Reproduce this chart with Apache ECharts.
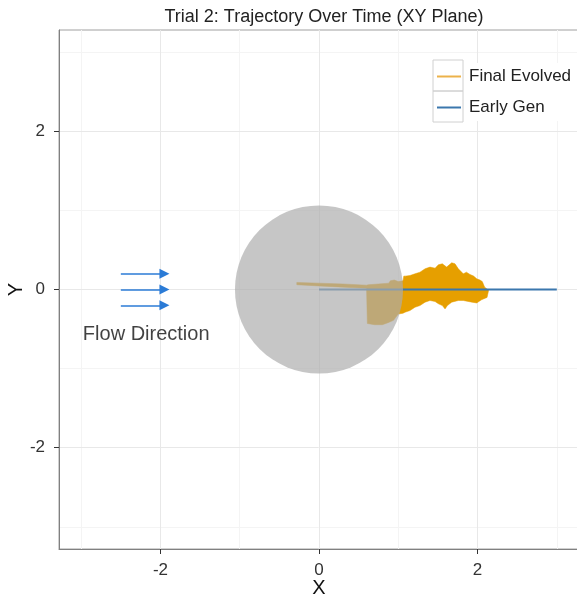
<!DOCTYPE html>
<html>
<head>
<meta charset="utf-8">
<title>Trial 2: Trajectory Over Time (XY Plane)</title>
<script src="https://cdn.jsdelivr.net/npm/echarts@6/dist/echarts.min.js"></script>
<style>
	html,body{margin:0;padding:0;background:#fff;}
	#trajectory-echarts{width:577px;height:598px;}
</style>
</head>
<body>
<div id="trajectory-echarts"></div>
<script>
// axis ticks and grid breaks
var axisRange = [-3.28, 3.28];
var majorBreaks = [-2, 0, 2];
var minorBreaks = [-3, -1, 1, 3];

// final evolved trajectory envelope (x, y)
var evolvedTop = [
	[-0.28,0.09],[0.0,0.08],[0.3,0.07],[0.60,0.055],[0.62,0.06],[0.75,0.07],[0.88,0.08],
	[0.90,0.11],[0.95,0.12],[1.00,0.10],[1.06,0.11],[1.07,0.17],[1.085,0.169],[1.148,0.177],
	[1.211,0.198],[1.274,0.219],[1.338,0.262],[1.40,0.283],[1.464,0.27],[1.506,0.312],
	[1.556,0.325],[1.61,0.283],[1.674,0.338],[1.716,0.325],[1.758,0.262],[1.82,0.198],
	[1.86,0.219],[1.905,0.19],[1.95,0.17],[1.99,0.135],[2.03,0.12],[2.06,0.1],[2.09,0.03],[2.14,-0.01]
];
var evolvedBottom = [
	[-0.28,0.06],[0.0,0.045],[0.3,0.03],[0.60,0.015],[0.61,-0.43],[0.70,-0.445],[0.80,-0.445],
	[0.87,-0.42],[0.94,-0.39],[1.0,-0.31],[1.06,-0.3],[1.085,-0.287],[1.148,-0.266],[1.211,-0.224],
	[1.274,-0.203],[1.338,-0.16],[1.40,-0.139],[1.464,-0.152],[1.506,-0.18],[1.556,-0.203],
	[1.59,-0.245],[1.62,-0.203],[1.674,-0.16],[1.758,-0.139],[1.82,-0.139],[1.93,-0.16],
	[1.99,-0.17],[2.05,-0.13],[2.12,-0.1],[2.14,-0.01]
];

// early generation trajectory
var earlyGen = [[0,0],[3,0]];

// obstacle: centre x, centre y, radius
var obstacle = [[0,0,1.06]];

// flow direction arrows
var flowArrows = [
	[[-2.5,0.2],[-1.95,0.2]],
	[[-2.5,0],[-1.95,0]],
	[[-2.5,-0.2],[-1.95,-0.2]]
];
var flowLabel = [[-2.18,-0.57]];

function trajectoryEcharts(idName){
	var trajectoryEcharts = echarts.init(document.getElementById(idName));
	var font = '"Liberation Sans", Arial, sans-serif';

	// polygon points: top edge left->right, bottom edge right->left
	var polygon = evolvedTop.concat(evolvedBottom.slice().reverse());

	var gridLines = [];
	minorBreaks.forEach(function(v){
		gridLines.push({xAxis:v, lineStyle:{color:'#f4f4f4',width:1,type:'solid'}});
		gridLines.push({yAxis:v, lineStyle:{color:'#f4f4f4',width:1,type:'solid'}});
	});
	majorBreaks.forEach(function(v){
		gridLines.push({xAxis:v, lineStyle:{color:'#e8e8e8',width:1,type:'solid'}});
		gridLines.push({yAxis:v, lineStyle:{color:'#e8e8e8',width:1,type:'solid'}});
	});

	var option = {
		animation:false,
		textStyle:{fontFamily:font},
		title:{
			text:'Trial 2: Trajectory Over Time (XY Plane)',
			left:319,
			top:3,
			textAlign:'center',
			textStyle:{fontSize:18,fontWeight:'normal',color:'#222',fontFamily:font}
		},
		grid:{
			left:59,
			top:30,
			width:520,
			height:519,
			outerBoundsMode:'none',
			containLabel:false,
			show:true,
			borderColor:'#a0a0a0',
			borderWidth:1,
			backgroundColor:'#fff'
		},
		legend:{
			orient:'vertical',
			left:432,
			top:63,
			padding:5,
			backgroundColor:'#fff',
			itemWidth:24,
			itemHeight:2,
			itemGap:14,
			icon:'rect',
			z:20,
			textStyle:{fontSize:17,color:'#222',fontFamily:font,padding:[0,0,0,3]},
			data:[
				{name:'Final Evolved',itemStyle:{color:'#ecb24a'}},
				{name:'Early Gen',itemStyle:{color:'#3b77ad'}}
			]
		},
		graphic:[
			{type:'rect',shape:{x:433,y:60,width:30,height:31},style:{fill:'none',stroke:'#d0d0d0',lineWidth:1},z:100},
			{type:'rect',shape:{x:433,y:91,width:30,height:31},style:{fill:'none',stroke:'#d0d0d0',lineWidth:1},z:100}
		],
		xAxis:{
			type:'value',
			min:axisRange[0],
			max:axisRange[1],
			name:'X',
			nameLocation:'middle',
			nameGap:29,
			nameMoveOverlap:false,
			nameTextStyle:{fontSize:20,color:'#111',fontFamily:font},
			axisLine:{onZero:false,lineStyle:{color:'#808080',width:1}},
			axisTick:{show:true,length:5,customValues:majorBreaks,lineStyle:{color:'#333'}},
			axisLabel:{customValues:majorBreaks,fontSize:17,color:'#333',margin:13},
			splitLine:{show:false}
		},
		yAxis:{
			type:'value',
			min:axisRange[0],
			max:axisRange[1],
			name:'Y',
			nameLocation:'middle',
			nameGap:33,
			nameMoveOverlap:false,
			nameTextStyle:{fontSize:20,color:'#111',fontFamily:font},
			axisLine:{onZero:false,lineStyle:{color:'#808080',width:1}},
			axisTick:{show:true,length:5,customValues:majorBreaks,lineStyle:{color:'#333'}},
			axisLabel:{customValues:majorBreaks,fontSize:17,color:'#333',margin:14},
			splitLine:{show:false}
		},
		series:[
			{
				name:'grid',
				type:'line',
				data:[[0,0]],
				showSymbol:false,
				silent:true,
				z:0,
				lineStyle:{opacity:0},
				markLine:{
					silent:true,
					z:0,
					symbol:'none',
					label:{show:false},
					animation:false,
					data:gridLines
				}
			},
			{
				name:'Final Evolved',
				type:'custom',
				z:2,
				itemStyle:{color:'#E69F00'},
				data:polygon,
				renderItem:function(params,api){
					if(params.dataIndex !== 0){
						return;
					}
					var pts = polygon.map(function(p){
						return api.coord(p);
					});
					return {
						type:'polygon',
						shape:{points:pts},
						style:{fill:'#E69F00',stroke:'#E69F00',lineWidth:0.5}
					};
				}
			},
			{
				name:'Early Gen',
				type:'line',
				z:3,
				data:earlyGen,
				showSymbol:false,
				lineStyle:{color:'#3b77ad',width:2},
				itemStyle:{color:'#3b77ad'}
			},
			{
				name:'obstacle',
				type:'custom',
				z:4,
				data:obstacle,
				renderItem:function(params,api){
					var c = api.coord([api.value(0),api.value(1)]);
					var r = api.size([api.value(2),0])[0];
					return {
						type:'circle',
						shape:{cx:c[0],cy:c[1],r:r},
						style:{fill:'rgba(172,172,172,0.69)'}
					};
				}
			},
			{
				name:'flow',
				type:'lines',
				coordinateSystem:'cartesian2d',
				z:5,
				symbol:['none','triangle'],
				symbolSize:10,
				lineStyle:{color:'#2b7bd6',width:1.6,opacity:1},
				data:flowArrows.map(function(a){
					return {coords:a};
				})
			},
			{
				name:'flowLabel',
				type:'scatter',
				z:5,
				symbolSize:0,
				data:flowLabel,
				label:{
					show:true,
					position:'inside',
					formatter:'Flow Direction',
					fontSize:20,
					color:'#111',
					fontFamily:font
				}
			}
		]
	};

	trajectoryEcharts.setOption(option);
}

trajectoryEcharts('trajectory-echarts');
</script>
</body>
</html>
